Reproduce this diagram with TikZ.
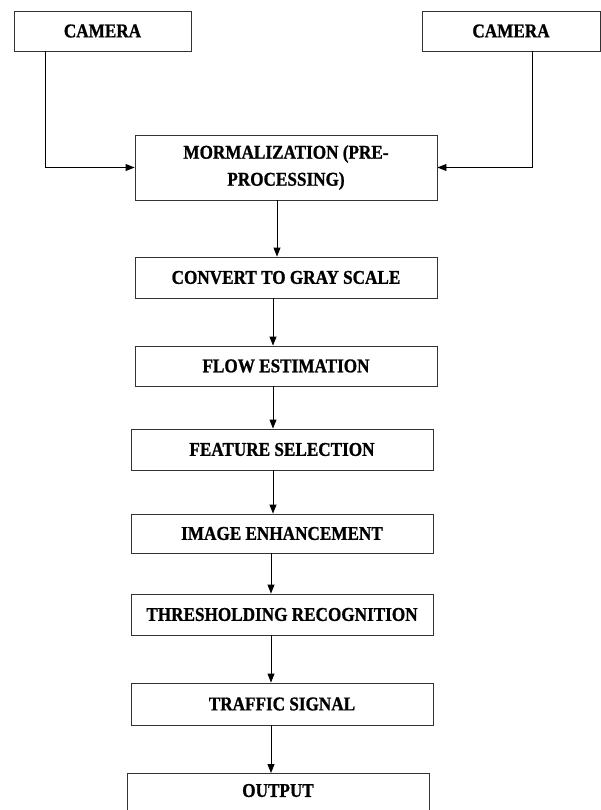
\documentclass[tikz,border=0pt]{standalone}
\usepackage{fontspec}
\setmainfont{Liberation Serif}[FakeStretch=0.88, BoldFeatures={FakeBold=1}]
\usetikzlibrary{arrows.meta}
\tikzset{
  box/.style={draw=black!80, line width=0.9pt, rectangle, minimum width=302pt, inner sep=0pt,
    font=\bfseries\fontsize{19.5}{27}\selectfont, align=center, text=black},
  cambox/.style={box, minimum width=177pt, minimum height=40pt},
  arr/.style={draw=black, line width=0.9pt, -{Triangle[length=9pt,width=7pt]}}
}
\begin{document}
\begin{tikzpicture}[x=1pt,y=-1pt]
\useasboundingbox (0,0) rectangle (601,810);
\clip (0,0) rectangle (601,810);
\node[cambox] (cam1) at (102.5,31) {CAMERA};
\node[cambox, minimum width=178pt] (cam2) at (511,31) {CAMERA};
\node[box, minimum height=65pt] (morm) at (286,167.5) {MORMALIZATION (PRE-\\PROCESSING)};
\node[box, minimum height=41pt] (conv) at (286,277.5) {CONVERT TO GRAY SCALE};
\node[box, minimum height=40pt] (flow) at (286,366) {FLOW ESTIMATION};
\node[box, minimum height=41pt] (feat) at (282,449.5) {FEATURE SELECTION};
\node[box, minimum height=39pt] (img) at (282,533.5) {IMAGE ENHANCEMENT};
\node[box, minimum height=41pt] (thr) at (282,614.5) {THRESHOLDING RECOGNITION};
\node[box, minimum height=42pt] (traf) at (282,704) {TRAFFIC SIGNAL};
\node[box, minimum height=60pt, anchor=north, text depth=26pt] (out) at (278,773) {OUTPUT};
\draw[arr] ([xshift=-57.5pt]cam1.south) |- (morm.west);
\draw[arr] ([xshift=21pt]cam2.south) |- (morm.east);
\draw[arr] ([xshift=-9pt]morm.south) -- ([xshift=-9pt]conv.north);
\draw[arr] ([xshift=-13pt]conv.south) -- ([xshift=-13pt]flow.north);
\draw[arr] ([xshift=-13pt]flow.south) -- ([xshift=-9pt]feat.north);
\draw[arr] ([xshift=-9pt]feat.south) -- ([xshift=-9pt]img.north);
\draw[arr] ([xshift=-11pt]img.south) -- ([xshift=-11pt]thr.north);
\draw[arr] ([xshift=-11pt]thr.south) -- ([xshift=-11pt]traf.north);
\draw[arr] ([xshift=-11pt]traf.south) -- ([xshift=-7pt]out.north);
\end{tikzpicture}
\end{document}
